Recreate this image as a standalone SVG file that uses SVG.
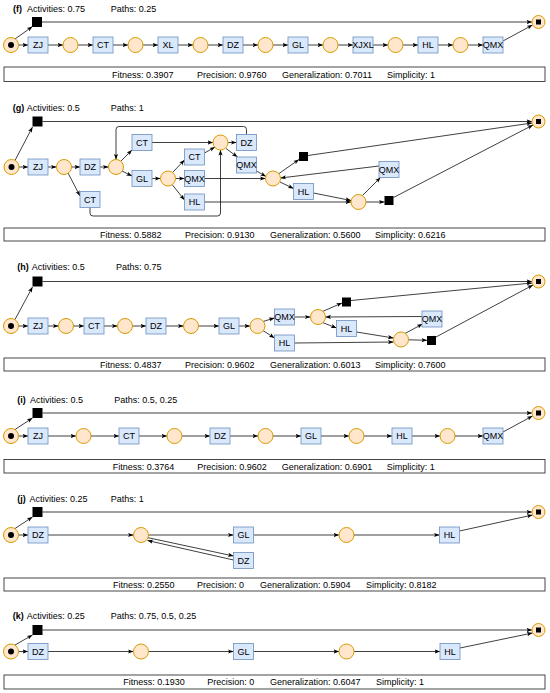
<svg xmlns="http://www.w3.org/2000/svg" width="550" height="693" viewBox="0 0 550 693">
<style>
text{font-family:"Liberation Sans",Arial,sans-serif;font-size:9px;fill:#000}
.l{text-anchor:middle}
.h{font-weight:bold}
.c{fill:#FFE6CC;stroke:#D79B00;stroke-width:1}
.b{fill:#DAE8FC;stroke:#6C8EBF;stroke-width:0.8}
.k{fill:#000}
.m{fill:#fff;stroke:#333;stroke-width:0.9}
.e path{fill:none;stroke:#000;stroke-width:0.75;marker-end:url(#a)}
</style>
<defs>
<marker id="a" markerUnits="userSpaceOnUse" markerWidth="6" markerHeight="6" viewBox="0 0 6 6" refX="5.5" refY="3" orient="auto"><path d="M0,0.9 L5.5,3 L0,5.1 L1.3,3 z" fill="#000"/></marker>
</defs>

<!-- ================= (f) ================= -->
<g id="f-title"><text class="h" x="13" y="11.5">(f)</text><text x="27" y="11.5">Activities: 0.75</text><text x="110.7" y="11.5">Paths: 0.25</text></g>
<g class="e" id="f-edges">
<path d="M15,39 L32.5,26.5"/>
<path d="M42,22 H532"/>
<path d="M18.5,45 H28"/>
<path d="M48,45 H63"/>
<path d="M78,45 H93"/>
<path d="M113,45 H128"/>
<path d="M143,45 H158"/>
<path d="M178,45 H193"/>
<path d="M208,45 H223"/>
<path d="M243,45 H258"/>
<path d="M273,45 H288"/>
<path d="M308,45 H323"/>
<path d="M338,45 H353"/>
<path d="M373,45 H388"/>
<path d="M403,45 H418"/>
<path d="M438,45 H453"/>
<path d="M468,45 H483"/>
<path d="M503,41 L532.5,25"/>
</g>
<g id="f-start"><circle class="c" cx="11" cy="45" r="7.5"/><circle class="k" cx="11" cy="45" r="3"/></g>
<g id="f-sq"><rect class="k" x="32" y="17" width="10" height="10"/></g>
<g id="f-end"><circle class="c" cx="538.5" cy="22" r="6.5"/><rect class="k" x="536" y="19.5" width="5" height="5"/></g>
<g id="f-ZJ"><rect class="b" x="28" y="37" width="20" height="16"/><text class="l" x="38" y="48.2">ZJ</text></g>
<g id="f-p1"><circle class="c" cx="70.5" cy="45" r="7.5"/></g>
<g id="f-CT"><rect class="b" x="93" y="37" width="20" height="16"/><text class="l" x="103" y="48.2">CT</text></g>
<g id="f-p2"><circle class="c" cx="135.5" cy="45" r="7.5"/></g>
<g id="f-XL"><rect class="b" x="158" y="37" width="20" height="16"/><text class="l" x="168" y="48.2">XL</text></g>
<g id="f-p3"><circle class="c" cx="200.5" cy="45" r="7.5"/></g>
<g id="f-DZ"><rect class="b" x="223" y="37" width="20" height="16"/><text class="l" x="233" y="48.2">DZ</text></g>
<g id="f-p4"><circle class="c" cx="265.5" cy="45" r="7.5"/></g>
<g id="f-GL"><rect class="b" x="288" y="37" width="20" height="16"/><text class="l" x="298" y="48.2">GL</text></g>
<g id="f-p5"><circle class="c" cx="330.5" cy="45" r="7.5"/></g>
<g id="f-XJXL"><rect class="b" x="353" y="37" width="20" height="16"/><text class="l" x="363" y="48.2">XJXL</text></g>
<g id="f-p6"><circle class="c" cx="395.5" cy="45" r="7.5"/></g>
<g id="f-HL"><rect class="b" x="418" y="37" width="20" height="16"/><text class="l" x="428" y="48.2">HL</text></g>
<g id="f-p7"><circle class="c" cx="460.5" cy="45" r="7.5"/></g>
<g id="f-QMX"><rect class="b" x="483" y="37" width="20" height="16"/><text class="l" x="493" y="48.2">QMX</text></g>
<g id="f-metrics"><rect class="m" x="4" y="67" width="541" height="14.5"/><text x="112" y="77.5">Fitness:  0.3907</text><text x="197" y="77.5">Precision:  0.9760</text><text x="282" y="77.5">Generalization:  0.7011</text><text x="387" y="77.5">Simplicity: 1</text></g>

<!-- ================= (g) ================= -->
<g id="g-title"><text class="h" x="12.7" y="111">(g)</text><text x="26.7" y="111">Activities: 0.5</text><text x="110.7" y="111">Paths: 1</text></g>
<g class="e" id="g-edges">
<path d="M15,160.5 L32.5,127"/>
<path d="M42.5,121.5 H532"/>
<path d="M19,167 H28"/>
<path d="M48,167 H56.5"/>
<path d="M71.5,167 H80"/>
<path d="M68,173 L80,196"/>
<path d="M100,167 H108.5"/>
<path d="M121,161 L132,150"/>
<path d="M122,171 L132,176"/>
<path d="M152,142.5 H213"/>
<path d="M152,178.5 H160.5"/>
<path d="M172.5,172.5 L184.5,160"/>
<path d="M175.5,178.5 H184.5"/>
<path d="M172.5,185 L184.5,200"/>
<path d="M204.5,153 L215,147"/>
<path d="M228,142.5 H236.5"/>
<path d="M226,148.5 L237.5,157"/>
<path d="M246.5,134.5 V129.5 Q246.5,126.5 243.5,126.5 H119 Q116,126.5 116,129.5 V159.5"/>
<path d="M90,207.5 V213 Q90,216 93,216 H217.5 Q220.5,216 220.5,213 V150"/>
<path d="M204.5,178.5 H265.5"/>
<path d="M204.5,202 H351"/>
<path d="M256.5,171 L266,176.5"/>
<path d="M279,173.5 L299,159.5"/>
<path d="M280,182 L293.5,188.5"/>
<path d="M379,166 L280.5,178"/>
<path d="M313.5,193 L351,200.5"/>
<path d="M362.5,195.5 L380.5,177.5"/>
<path d="M366,202 H384.5"/>
<path d="M308,155.5 L532,123"/>
<path d="M393.5,197.5 L533,125"/>
</g>
<g id="g-start"><circle class="c" cx="11.5" cy="167" r="7.5"/><circle class="k" cx="11.5" cy="167" r="3"/></g>
<g id="g-sq"><rect class="k" x="32.5" y="116.5" width="10" height="10"/></g>
<g id="g-end"><circle class="c" cx="538.5" cy="121.5" r="6.5"/><rect class="k" x="536" y="119" width="5" height="5"/></g>
<g id="g-ZJ"><rect class="b" x="28" y="159" width="20" height="16"/><text class="l" x="38" y="170.2">ZJ</text></g>
<g id="g-p1"><circle class="c" cx="64" cy="167" r="7.5"/></g>
<g id="g-DZ1"><rect class="b" x="80" y="159" width="20" height="16"/><text class="l" x="90" y="170.2">DZ</text></g>
<g id="g-CT1"><rect class="b" x="80" y="191.5" width="20" height="16"/><text class="l" x="90" y="202.7">CT</text></g>
<g id="g-p2"><circle class="c" cx="116" cy="167" r="7.5"/></g>
<g id="g-CT2"><rect class="b" x="132" y="134.5" width="20" height="16"/><text class="l" x="142" y="145.7">CT</text></g>
<g id="g-GL"><rect class="b" x="132" y="170.5" width="20" height="16"/><text class="l" x="142" y="181.7">GL</text></g>
<g id="g-p3"><circle class="c" cx="168" cy="178.5" r="7.5"/></g>
<g id="g-CT3"><rect class="b" x="184.5" y="149" width="20" height="16"/><text class="l" x="194.5" y="160.2">CT</text></g>
<g id="g-QMX1"><rect class="b" x="184.5" y="170.5" width="20" height="16"/><text class="l" x="194.5" y="181.7">QMX</text></g>
<g id="g-HL1"><rect class="b" x="184.5" y="194" width="20" height="16"/><text class="l" x="194.5" y="205.2">HL</text></g>
<g id="g-p4"><circle class="c" cx="220.5" cy="142.5" r="7.5"/></g>
<g id="g-DZ2"><rect class="b" x="236.5" y="134.5" width="20" height="16"/><text class="l" x="246.5" y="145.7">DZ</text></g>
<g id="g-QMX2"><rect class="b" x="236.5" y="157" width="20" height="16"/><text class="l" x="246.5" y="168.2">QMX</text></g>
<g id="g-p5"><circle class="c" cx="273" cy="178.5" r="7.5"/></g>
<g id="g-sq2"><rect class="k" x="299" y="152" width="9" height="9"/></g>
<g id="g-HL2"><rect class="b" x="293.5" y="183.5" width="20" height="16"/><text class="l" x="303.5" y="194.7">HL</text></g>
<g id="g-QMX3"><rect class="b" x="379" y="161.5" width="20" height="16"/><text class="l" x="389" y="172.7">QMX</text></g>
<g id="g-p6"><circle class="c" cx="358.5" cy="202" r="7.5"/></g>
<g id="g-sq3"><rect class="k" x="384.5" y="196" width="9" height="9"/></g>
<g id="g-metrics"><rect class="m" x="4" y="228" width="541" height="13"/><text x="100" y="237.7">Fitness:  0.5882</text><text x="185" y="237.7">Precision:  0.9130</text><text x="270" y="237.7">Generalization:  0.5600</text><text x="375" y="237.7">Simplicity:  0.6216</text></g>

<!-- ================= (h) ================= -->
<g id="h-title"><text class="h" x="17.3" y="270">(h)</text><text x="31.7" y="270">Activities: 0.5</text><text x="116" y="270">Paths: 0.75</text></g>
<g class="e" id="h-edges">
<path d="M15,319.5 L32.5,287"/>
<path d="M42.5,281.5 H532"/>
<path d="M18.5,326 H28"/>
<path d="M48,326 H58.5"/>
<path d="M73.5,326 H84"/>
<path d="M104,326 H117.5"/>
<path d="M132.5,326 H146"/>
<path d="M166,326 H183.5"/>
<path d="M198.5,326 H219"/>
<path d="M239,326 H250"/>
<path d="M263,321.5 L274.5,318"/>
<path d="M263,330.5 L274.5,338"/>
<path d="M294.5,317 H310.5"/>
<path d="M322.5,311.5 L342,303"/>
<path d="M322.5,322.5 L336.5,328"/>
<path d="M422,316.5 L325.5,317"/>
<path d="M294.5,343 L393.5,342"/>
<path d="M356.5,332 L393.5,338"/>
<path d="M405,333.5 L422.5,324"/>
<path d="M408.5,339.8 L427,340.3"/>
<path d="M351,300.5 L532,283"/>
<path d="M436,337 L533,285"/>
</g>
<g id="h-start"><circle class="c" cx="11" cy="326" r="7.5"/><circle class="k" cx="11" cy="326" r="3"/></g>
<g id="h-sq"><rect class="k" x="32.5" y="276.5" width="10" height="10"/></g>
<g id="h-end"><circle class="c" cx="538.5" cy="281.5" r="6.5"/><rect class="k" x="536" y="279" width="5" height="5"/></g>
<g id="h-ZJ"><rect class="b" x="28" y="318" width="20" height="16"/><text class="l" x="38" y="329.2">ZJ</text></g>
<g id="h-p1"><circle class="c" cx="66" cy="326" r="7.5"/></g>
<g id="h-CT"><rect class="b" x="84" y="318" width="20" height="16"/><text class="l" x="94" y="329.2">CT</text></g>
<g id="h-p2"><circle class="c" cx="125" cy="326" r="7.5"/></g>
<g id="h-DZ"><rect class="b" x="146" y="318" width="20" height="16"/><text class="l" x="156" y="329.2">DZ</text></g>
<g id="h-p3"><circle class="c" cx="191" cy="326" r="7.5"/></g>
<g id="h-GL"><rect class="b" x="219" y="318" width="20" height="16"/><text class="l" x="229" y="329.2">GL</text></g>
<g id="h-p4"><circle class="c" cx="257.5" cy="326" r="7.5"/></g>
<g id="h-QMX1"><rect class="b" x="274.5" y="309" width="20" height="16"/><text class="l" x="284.5" y="320.2">QMX</text></g>
<g id="h-HL1"><rect class="b" x="274.5" y="335" width="20" height="16"/><text class="l" x="284.5" y="346.2">HL</text></g>
<g id="h-p5"><circle class="c" cx="318" cy="317" r="7.5"/></g>
<g id="h-sq2"><rect class="k" x="342" y="297.5" width="9" height="9"/></g>
<g id="h-HL2"><rect class="b" x="336.5" y="320.5" width="20" height="16"/><text class="l" x="346.5" y="331.7">HL</text></g>
<g id="h-QMX2"><rect class="b" x="422" y="311" width="20" height="16"/><text class="l" x="432" y="322.2">QMX</text></g>
<g id="h-p6"><circle class="c" cx="401" cy="339.5" r="7.5"/></g>
<g id="h-sq3"><rect class="k" x="427" y="336" width="9" height="9"/></g>
<g id="h-metrics"><rect class="m" x="4" y="358" width="541" height="13"/><text x="100" y="367.7">Fitness:  0.4837</text><text x="185" y="367.7">Precision:  0.9602</text><text x="270" y="367.7">Generalization:  0.6013</text><text x="375" y="367.7">Simplicity:  0.7600</text></g>

<!-- ================= (i) ================= -->
<g id="i-title"><text class="h" x="17.3" y="402.5">(i)</text><text x="30" y="402.5">Activities: 0.5</text><text x="114.3" y="402.5">Paths: 0.5, 0.25</text></g>
<g class="e" id="i-edges">
<path d="M15,429.5 L32.5,418"/>
<path d="M42.5,413 H532"/>
<path d="M18.5,436 H28"/>
<path d="M48,436 H76"/>
<path d="M91,436 H119"/>
<path d="M139,436 H167"/>
<path d="M182,436 H210"/>
<path d="M230,436 H258"/>
<path d="M273,436 H301"/>
<path d="M321,436 H349"/>
<path d="M364,436 H392"/>
<path d="M412,436 H440"/>
<path d="M455,436 H483"/>
<path d="M503,432 L532.5,416"/>
</g>
<g id="i-start"><circle class="c" cx="11" cy="436" r="7.5"/><circle class="k" cx="11" cy="436" r="3"/></g>
<g id="i-sq"><rect class="k" x="32.5" y="408" width="10" height="10"/></g>
<g id="i-end"><circle class="c" cx="538.5" cy="413" r="6.5"/><rect class="k" x="536" y="410.5" width="5" height="5"/></g>
<g id="i-ZJ"><rect class="b" x="28" y="428" width="20" height="16"/><text class="l" x="38" y="439.2">ZJ</text></g>
<g id="i-p1"><circle class="c" cx="83.5" cy="436" r="7.5"/></g>
<g id="i-CT"><rect class="b" x="119" y="428" width="20" height="16"/><text class="l" x="129" y="439.2">CT</text></g>
<g id="i-p2"><circle class="c" cx="174.5" cy="436" r="7.5"/></g>
<g id="i-DZ"><rect class="b" x="210" y="428" width="20" height="16"/><text class="l" x="220" y="439.2">DZ</text></g>
<g id="i-p3"><circle class="c" cx="265.5" cy="436" r="7.5"/></g>
<g id="i-GL"><rect class="b" x="301" y="428" width="20" height="16"/><text class="l" x="311" y="439.2">GL</text></g>
<g id="i-p4"><circle class="c" cx="356.5" cy="436" r="7.5"/></g>
<g id="i-HL"><rect class="b" x="392" y="428" width="20" height="16"/><text class="l" x="402" y="439.2">HL</text></g>
<g id="i-p5"><circle class="c" cx="447.5" cy="436" r="7.5"/></g>
<g id="i-QMX"><rect class="b" x="483" y="428" width="20" height="16"/><text class="l" x="493" y="439.2">QMX</text></g>
<g id="i-metrics"><rect class="m" x="4" y="459.5" width="541" height="13.5"/><text x="112.7" y="469.5">Fitness:  0.3764</text><text x="197.3" y="469.5">Precision:  0.9602</text><text x="281.7" y="469.5">Generalization:  0.6901</text><text x="386.7" y="469.5">Simplicity: 1</text></g>

<!-- ================= (j) ================= -->
<g id="j-title"><text class="h" x="17.3" y="502">(j)</text><text x="29.5" y="502">Activities: 0.25</text><text x="110.7" y="502">Paths: 1</text></g>
<g class="e" id="j-edges">
<path d="M15,528.5 L32.5,517"/>
<path d="M42.5,512 H532"/>
<path d="M18.5,535 H28"/>
<path d="M48,535 H133.5"/>
<path d="M148.5,535 H233.5"/>
<path d="M148,537.7 L233.5,556"/>
<path d="M233.5,560 L147.5,540.5"/>
<path d="M253.5,535 H339"/>
<path d="M354,535 H439.5"/>
<path d="M459.5,531 L532.5,515"/>
</g>
<g id="j-start"><circle class="c" cx="11" cy="535" r="7.5"/><circle class="k" cx="11" cy="535" r="3"/></g>
<g id="j-sq"><rect class="k" x="32.5" y="507" width="10" height="10"/></g>
<g id="j-end"><circle class="c" cx="538.5" cy="512" r="6.5"/><rect class="k" x="536" y="509.5" width="5" height="5"/></g>
<g id="j-DZ1"><rect class="b" x="28" y="527" width="20" height="16"/><text class="l" x="38" y="538.2">DZ</text></g>
<g id="j-p1"><circle class="c" cx="141" cy="535" r="7.5"/></g>
<g id="j-GL"><rect class="b" x="233.5" y="527" width="20" height="16"/><text class="l" x="243.5" y="538.2">GL</text></g>
<g id="j-DZ2"><rect class="b" x="233.5" y="552.5" width="20" height="16"/><text class="l" x="243.5" y="563.7">DZ</text></g>
<g id="j-p2"><circle class="c" cx="346.5" cy="535" r="7.5"/></g>
<g id="j-HL"><rect class="b" x="439.5" y="527" width="20" height="16"/><text class="l" x="449.5" y="538.2">HL</text></g>
<g id="j-metrics"><rect class="m" x="4" y="578" width="541" height="13"/><text x="113" y="587.7">Fitness:  0.2550</text><text x="197" y="587.7">Precision:  0</text><text x="260" y="587.7">Generalization:  0.5904</text><text x="366" y="587.7">Simplicity:  0.8182</text></g>

<!-- ================= (k) ================= -->
<g id="k-title"><text class="h" x="12.7" y="619">(k)</text><text x="26.7" y="619">Activities: 0.25</text><text x="110.7" y="619">Paths: 0.75, 0.5, 0.25</text></g>
<g class="e" id="k-edges">
<path d="M15,645 L32.5,635"/>
<path d="M42.5,630 H532"/>
<path d="M18.5,651.5 H28"/>
<path d="M48,651.5 H133.5"/>
<path d="M148.5,651.5 H233.5"/>
<path d="M253.5,651.5 H339"/>
<path d="M354,651.5 H440"/>
<path d="M460,648 L532.5,633"/>
</g>
<g id="k-start"><circle class="c" cx="11" cy="651.5" r="7.5"/><circle class="k" cx="11" cy="651.5" r="3"/></g>
<g id="k-sq"><rect class="k" x="32.5" y="625" width="10" height="10"/></g>
<g id="k-end"><circle class="c" cx="538.5" cy="630" r="6.5"/><rect class="k" x="536" y="627.5" width="5" height="5"/></g>
<g id="k-DZ"><rect class="b" x="28" y="643.5" width="20" height="16"/><text class="l" x="38" y="654.7">DZ</text></g>
<g id="k-p1"><circle class="c" cx="141" cy="651.5" r="7.5"/></g>
<g id="k-GL"><rect class="b" x="233.5" y="643.5" width="20" height="16"/><text class="l" x="243.5" y="654.7">GL</text></g>
<g id="k-p2"><circle class="c" cx="346.5" cy="651.5" r="7.5"/></g>
<g id="k-HL"><rect class="b" x="440" y="643.5" width="20" height="16"/><text class="l" x="450" y="654.7">HL</text></g>
<g id="k-metrics"><rect class="m" x="4" y="675" width="541" height="14"/><text x="123.3" y="685.2">Fitness:  0.1930</text><text x="207.3" y="685.2">Precision:  0</text><text x="270" y="685.2">Generalization:  0.6047</text><text x="376" y="685.2">Simplicity: 1</text></g>
</svg>
